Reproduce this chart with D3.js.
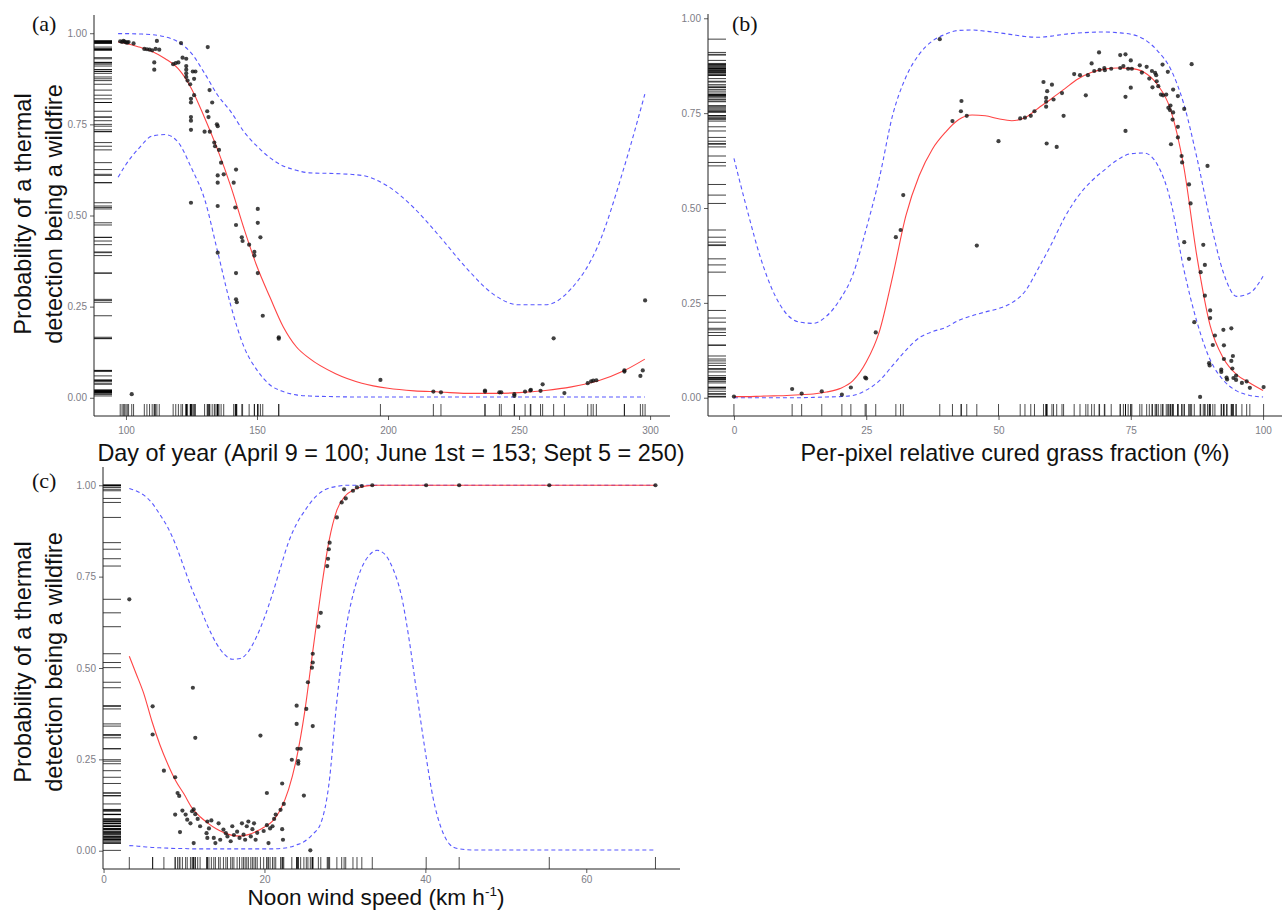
<!DOCTYPE html>
<html><head><meta charset="utf-8">
<script src="https://cdn.jsdelivr.net/npm/d3@7"></script>
<style>body{margin:0;background:#fff} svg{display:block}</style>
</head><body>
<svg id="chart" width="1282" height="911"></svg>
<script>
// ---------- tick labels ----------
const yTickValues = [0, 0.25, 0.5, 0.75, 1];
const aTicksX = [100, 150, 200, 250, 300];
const bTicksX = [0, 25, 50, 75, 100];
const cTicksX = [0, 20, 40, 60];

// ---------- panel (a): day of year ----------
const aPoints = [[97.8,0.978],[98.5,0.976],[99,0.979],[99.5,0.977],[100,0.975],[100.5,0.974],[101,0.976],[102.2,0.01],[102.9,0.972],[107,0.957],[108,0.956],[109,0.955],[110,0.953],[110.8,0.92],[110.8,0.90],[111.3,0.957],[111.8,0.979],[112.7,0.955],[118,0.915],[119,0.918],[120,0.92],[121,0.973],[121.6,0.933],[123,0.93],[123,0.91],[123,0.90],[123,0.89],[123,0.88],[123.5,0.87],[124.5,0.86],[124.8,0.82],[124.8,0.81],[124.8,0.77],[124.8,0.76],[124.8,0.735],[124.8,0.535],[125.5,0.895],[126,0.875],[126,0.83],[126.5,0.895],[130,0.73],[131,0.786],[131.2,0.962],[131.5,0.77],[131.9,0.844],[132,0.73],[132.9,0.81],[133.7,0.70],[134,0.69],[134.7,0.75],[135,0.745],[135,0.61],[135,0.59],[135,0.526],[135,0.398],[135.5,0.68],[136.3,0.645],[137.3,0.613],[141.1,0.59],[141.7,0.522],[142,0.626],[142,0.474],[142,0.342],[142,0.27],[142.3,0.262],[144.2,0.44],[144.5,0.43],[147,0.42],[149,0.40],[149,0.39],[150.3,0.518],[150.3,0.48],[150.3,0.342],[151.3,0.44],[152.2,0.225],[158.3,0.162],[158.3,0.166],[197.1,0.049],[217.3,0.017],[220.2,0.015],[237,0.017],[237,0.02],[242.5,0.015],[243.2,0.015],[248.2,0.005],[248.2,0.01],[252.3,0.017],[254.3,0.02],[254.5,0.022],[258.2,0.019],[259,0.037],[263.2,0.163],[267.3,0.013],[276.2,0.04],[277.5,0.045],[278.3,0.047],[279.5,0.048],[290.2,0.072],[290.2,0.075],[296.3,0.06],[297.2,0.075],[298.1,0.267]];
const aCurveX = [97,100,105,110,115,120,125,130,135,140,145,150,155,160,165,170,180,190,200,210,220,230,240,250,260,270,280,290,298];
const aFit    = [0.976,0.972,0.962,0.950,0.930,0.902,0.848,0.768,0.680,0.580,0.465,0.360,0.275,0.195,0.140,0.108,0.066,0.040,0.026,0.019,0.016,0.012,0.012,0.014,0.020,0.030,0.046,0.074,0.106];
const aUpper  = [0.999,0.999,0.998,0.996,0.990,0.976,0.945,0.890,0.830,0.785,0.730,0.690,0.658,0.636,0.624,0.617,0.615,0.610,0.580,0.520,0.440,0.355,0.285,0.255,0.255,0.300,0.415,0.630,0.833];
const aLower  = [0.605,0.640,0.685,0.718,0.722,0.700,0.630,0.545,0.400,0.253,0.140,0.076,0.035,0.017,0.008,0.005,0.003,0.002,0.002,0.002,0.002,0.002,0.002,0.002,0.002,0.002,0.002,0.002,0.002];

// ---------- panel (b): cured grass fraction ----------
const bPoints = [[0,0.003],[11,0.023],[12.8,0.011],[16.6,0.017],[20.4,0.008],[22.1,0.027],[24.8,0.053],[25,0.051],[26.8,0.172],[30.6,0.423],[31.5,0.442],[32,0.534],[38.9,0.945],[41.3,0.729],[42.9,0.755],[43,0.782],[44,0.743],[45.9,0.401],[50,0.676],[54.1,0.736],[55,0.738],[56.1,0.743],[56.8,0.755],[58.5,0.832],[59,0.79],[59,0.78],[59.2,0.808],[59,0.767],[59.1,0.67],[60.1,0.825],[60.4,0.786],[61,0.661],[62,0.803],[62.3,0.743],[64.3,0.853],[65.4,0.85],[66.5,0.797],[66.9,0.85],[67.6,0.881],[68.1,0.861],[69,0.91],[69.1,0.864],[70,0.869],[70.1,0.863],[71.3,0.867],[73,0.903],[73,0.869],[73.6,0.874],[74,0.905],[74,0.793],[74,0.703],[74.5,0.867],[75,0.889],[75,0.817],[75.2,0.867],[76.7,0.876],[77.1,0.857],[78,0.872],[78.5,0.841],[79,0.861],[79.1,0.818],[79.6,0.856],[79.8,0.85],[79.9,0.834],[80.2,0.821],[80.7,0.799],[81,0.878],[81.1,0.797],[81.7,0.799],[82,0.859],[82.1,0.764],[82.4,0.758],[82.6,0.668],[82.5,0.77],[82.9,0.733],[83,0.812],[83,0.752],[83.9,0.795],[83.9,0.714],[83.9,0.686],[84.6,0.637],[84.7,0.62],[85.1,0.761],[85.1,0.41],[86,0.562],[86,0.366],[86.3,0.512],[86.5,0.879],[87,0.199],[88.1,0.002],[88.2,0.331],[88.7,0.403],[89,0.269],[89,0.35],[89.5,0.611],[89.8,0.091],[89.9,0.085],[90,0.23],[90,0.21],[90.5,0.139],[90.9,0.164],[92.1,0.074],[92.1,0.068],[92.5,0.179],[92.6,0.102],[92.6,0.138],[93.1,0.053],[93.2,0.048],[94,0.183],[94,0.097],[94.3,0.11],[94.2,0.077],[94.4,0.052],[94.9,0.058],[94.9,0.047],[96,0.039],[96.9,0.043],[97.5,0.026],[100.1,0.028]];
const bCurveX = [0,2.5,5,7.5,10,12.5,15,17.5,20,22.5,25,27.5,30,32.5,35,37.5,40,42.5,45,47.5,50,52.5,55,57.5,60,62.5,65,67.5,70,72.5,75,77.5,80,82.5,85,87.5,90,92.5,95,97.5,100];
const bFit    = [0.003,0.003,0.004,0.005,0.006,0.008,0.010,0.015,0.024,0.045,0.094,0.175,0.320,0.480,0.585,0.655,0.700,0.733,0.745,0.743,0.735,0.730,0.738,0.763,0.788,0.814,0.840,0.857,0.866,0.869,0.868,0.858,0.826,0.760,0.610,0.372,0.190,0.104,0.061,0.039,0.019];
const bUpper  = [0.631,0.495,0.370,0.277,0.220,0.199,0.196,0.215,0.258,0.325,0.445,0.580,0.745,0.845,0.905,0.940,0.958,0.968,0.969,0.966,0.962,0.957,0.952,0.950,0.953,0.958,0.961,0.963,0.964,0.962,0.958,0.945,0.915,0.867,0.775,0.632,0.468,0.330,0.267,0.276,0.320];
const bLower  = [0.000,0.000,0.000,0.000,0.000,0.000,0.001,0.002,0.003,0.006,0.020,0.045,0.085,0.125,0.158,0.174,0.185,0.204,0.216,0.226,0.235,0.250,0.280,0.340,0.405,0.475,0.530,0.570,0.600,0.627,0.643,0.645,0.615,0.520,0.340,0.200,0.100,0.046,0.018,0.006,0.002];

// ---------- panel (c): noon wind speed ----------
const cPoints = [[3.2,0.688],[6.1,0.395],[6.1,0.318],[7.5,0.219],[8.9,0.201],[9.2,0.158],[9.4,0.15],[8.9,0.099],[9.5,0.051],[9.8,0.11],[10.2,0.099],[10.4,0.085],[10.8,0.075],[11,0.108],[11.1,0.446],[11.2,0.113],[11.4,0.309],[11.2,0.021],[11.4,0.1],[11.7,0.087],[12,0.067],[12.9,0.08],[13.1,0.061],[12.8,0.048],[12.9,0.035],[13.4,0.083],[13.7,0.035],[13.9,0.021],[14.3,0.075],[14.5,0.03],[14.9,0.058],[15.2,0.048],[15.4,0.039],[15.8,0.026],[16,0.067],[16.2,0.043],[16.6,0.052],[16.9,0.035],[17.2,0.075],[17.4,0.044],[17.6,0.03],[17.8,0.067],[18,0.08],[18.3,0.039],[18.5,0.059],[18.7,0.075],[18.9,0.03],[19.1,0.049],[19.5,0.315],[19.9,0.054],[20.3,0.158],[20.3,0.07],[20.5,0.021],[20.7,0.061],[21,0.067],[21.2,0.087],[21.4,0.099],[22,0.112],[22.2,0.184],[22.2,0.059],[22.4,0.128],[22.3,0.03],[23.4,0.249],[24,0.397],[24,0.347],[24.1,0.279],[24.2,0.245],[24.2,0.238],[24.5,0.279],[24.9,0.151],[25.2,0.388],[25.4,0.461],[25.7,0.001],[25.9,0.501],[26,0.515],[26,0.539],[26,0.341],[26.7,0.613],[27,0.651],[27.8,0.779],[27.9,0.799],[28,0.825],[28.1,0.843],[29,0.912],[29.6,0.953],[30.1,0.964],[29.9,0.989],[31,0.985],[31.5,0.994],[32.1,0.998],[33.4,1.0],[40.1,1.0],[44.2,1.0],[55.4,1.0],[68.6,1.0]];
const cCurveX = [3.2,4,5,6,7,8,9,10,11,12,13,14,15,16,17,18,19,20,21,22,23,24,25,26,27,28,29,30,31,32,33,34,35,36,37,38,39,40,41,42,43,44,46,50,55,60,65,68.6];
const cFit    = [0.532,0.487,0.430,0.355,0.290,0.236,0.190,0.155,0.117,0.093,0.075,0.060,0.049,0.042,0.040,0.044,0.053,0.065,0.081,0.113,0.168,0.254,0.380,0.545,0.706,0.845,0.932,0.970,0.987,0.995,0.999,1,1,1,1,1,1,1,1,1,1,1,1,1,1,1,1,1];
const cUpper  = [0.991,0.985,0.973,0.952,0.920,0.884,0.835,0.775,0.715,0.665,0.612,0.568,0.538,0.524,0.526,0.545,0.585,0.638,0.703,0.775,0.845,0.895,0.930,0.960,0.981,0.992,0.997,1,1,1,1,1,1,1,1,1,1,1,1,1,1,1,1,1,1,1,1,1];
const cLower  = [0.014,0.013,0.011,0.009,0.008,0.007,0.006,0.006,0.005,0.005,0.005,0.005,0.005,0.005,0.005,0.005,0.005,0.005,0.005,0.006,0.009,0.016,0.026,0.045,0.075,0.180,0.410,0.590,0.700,0.770,0.808,0.822,0.810,0.770,0.700,0.575,0.420,0.270,0.140,0.060,0.018,0.006,0.002,0.002,0.002,0.002,0.002,0.002];

// ---------- drawing ----------
const svg = d3.select('#chart');
const FONT = "'Liberation Sans', Arial, sans-serif";

const panels = [
  {tag:'(a)', pts:aPoints, cx:aCurveX, fit:aFit, up:aUpper, lo:aLower, ticks:aTicksX,
   xd:[87.8,307.6], xr:[94,670], yr:[416,15], axisTop:15, bottom:416, tickPad:7,
   tagPos:[32,31], xTitle:'Day of year (April 9 = 100; June 1st = 153; Sept 5 = 250)', xTitlePos:[391,461], xTitleSize:23.4,
   yTitle:true, yTitleY:214},
  {tag:'(b)', pts:bPoints, cx:bCurveX, fit:bFit, up:bUpper, lo:bLower, ticks:bTicksX,
   xd:[-4.9,104.9], xr:[708,1289], yr:[416.7,-0.7], axisTop:14, bottom:416, tickPad:7,
   tagPos:[732,31], xTitle:'Per-pixel relative cured grass fraction (%)', xTitlePos:[1015,461], xTitleSize:23.4,
   yTitle:false},
  {tag:'(c)', pts:cPoints, cx:cCurveX, fit:cFit, up:cUpper, lo:cLower, ticks:cTicksX,
   xd:[-0.07,71.65], xr:[103,680], yr:[869,467], axisTop:467, bottom:869, tickPad:3,
   tagPos:[32,488], xTitle:null, xTitlePos:[376,905], xTitleSize:22.6,
   yTitle:true, yTitleY:662}
];

panels.forEach(p => {
  const g = svg.append('g');
  const x = d3.scaleLinear().domain(p.xd).range(p.xr);
  const y = d3.scaleLinear().domain([-0.05,1.05]).range(p.yr);
  const L = p.xr[0], R = p.xr[1], bottom = p.bottom;

  // rugs
  g.append('g').selectAll('line').data(p.pts).join('line')
    .attr('x1', L).attr('x2', L + 18)
    .attr('y1', d => y(d[1])).attr('y2', d => y(d[1]))
    .attr('stroke', '#000').attr('stroke-opacity', 0.75).attr('stroke-width', 1);
  g.append('g').selectAll('line').data(p.pts).join('line')
    .attr('x1', d => x(d[0])).attr('x2', d => x(d[0]))
    .attr('y1', bottom - 12).attr('y2', bottom)
    .attr('stroke', '#000').attr('stroke-opacity', 0.7).attr('stroke-width', 1);

  // axes
  const yAxis = d3.axisLeft(y).tickValues(yTickValues).tickFormat(d3.format('.2f')).tickSize(4).tickPadding(3);
  const ya = g.append('g').attr('transform', `translate(${L},0)`).call(yAxis);
  ya.select('.domain').remove();
  const xAxis = d3.axisBottom(x).tickValues(p.ticks).tickFormat(d3.format('d')).tickSize(4).tickPadding(p.tickPad);
  const xa = g.append('g').attr('transform', `translate(0,${bottom})`).call(xAxis);
  xa.select('.domain').remove();
  [ya, xa].forEach(a => {
    a.selectAll('text').attr('font-family', FONT).attr('font-size', 10).attr('fill', '#7d7d86');
    a.selectAll('.tick line').attr('stroke', '#333').attr('stroke-width', 0.8);
  });
  g.append('line').attr('x1', L).attr('x2', L).attr('y1', p.axisTop).attr('y2', bottom)
    .attr('stroke', '#222').attr('stroke-width', 1);
  g.append('line').attr('x1', L).attr('x2', R).attr('y1', bottom).attr('y2', bottom)
    .attr('stroke', '#222').attr('stroke-width', 1);

  // curves
  const mk = arr => d3.line().curve(d3.curveMonotoneX)
    .x((d, i) => x(p.cx[i])).y(d => y(d))(arr);
  g.append('path').attr('d', mk(p.up)).attr('fill', 'none')
    .attr('stroke', '#3a3aff').attr('stroke-opacity', 0.85).attr('stroke-width', 1.1).attr('stroke-dasharray', '4,3');
  g.append('path').attr('d', mk(p.lo)).attr('fill', 'none')
    .attr('stroke', '#3a3aff').attr('stroke-opacity', 0.85).attr('stroke-width', 1.1).attr('stroke-dasharray', '4,3');
  g.append('path').attr('d', mk(p.fit)).attr('fill', 'none')
    .attr('stroke', '#ff3030').attr('stroke-opacity', 0.9).attr('stroke-width', 1.1);

  // points
  g.append('g').selectAll('circle').data(p.pts).join('circle')
    .attr('cx', d => x(d[0])).attr('cy', d => y(d[1])).attr('r', 2.1)
    .attr('fill', '#111').attr('fill-opacity', 0.8);

  // panel tag
  g.append('text').attr('x', p.tagPos[0]).attr('y', p.tagPos[1])
    .attr('font-family', "'Liberation Serif', 'DejaVu Serif', serif").attr('font-size', 22)
    .attr('fill', '#111').text(p.tag);

  // x title
  const xt = g.append('text').attr('x', p.xTitlePos[0]).attr('y', p.xTitlePos[1])
    .attr('text-anchor', 'middle').attr('font-family', FONT).attr('font-size', p.xTitleSize).attr('fill', '#111');
  if (p.xTitle) xt.text(p.xTitle);
  else {
    xt.append('tspan').text('Noon wind speed (km h');
    xt.append('tspan').attr('font-size', 13.5).attr('dy', -9).text('-1');
    xt.append('tspan').attr('dy', 9).text(')');
  }

  // y title
  if (p.yTitle) {
    const yt = g.append('text').attr('transform', `translate(0,${p.yTitleY}) rotate(-90)`)
      .attr('text-anchor', 'middle').attr('font-family', FONT).attr('font-size', 23.6).attr('fill', '#111');
    yt.append('tspan').attr('x', 0).attr('y', 31).text('Probability of a thermal');
    yt.append('tspan').attr('x', 0).attr('y', 62).text('detection being a wildfire');
  }
});
</script>
</body></html>
